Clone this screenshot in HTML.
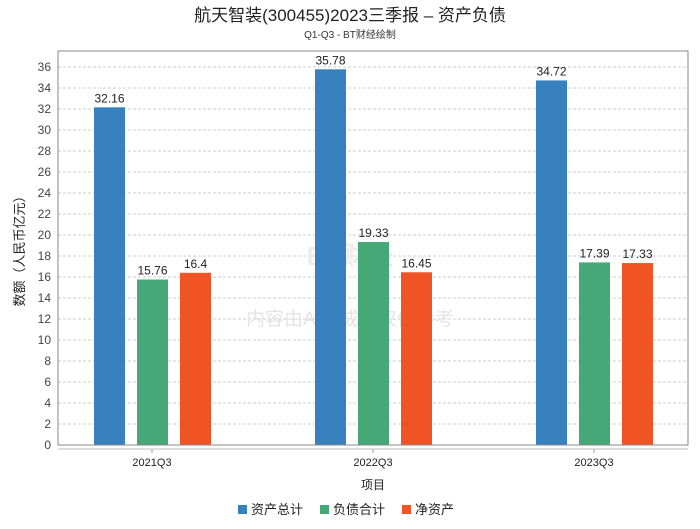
<!DOCTYPE html>
<html><head><meta charset="utf-8"><style>
body{margin:0;background:#fff;font-family:"Liberation Sans","Noto Sans CJK SC",sans-serif;}
</style></head><body>
<svg width="700" height="524" xmlns="http://www.w3.org/2000/svg" font-family="Liberation Sans, Noto Sans CJK SC, sans-serif">
<text x="350" y="21" text-anchor="middle" font-size="17" fill="#222">航天智装(300455)2023三季报 – 资产负债</text>
<text x="350" y="38" text-anchor="middle" font-size="10" fill="#333">Q1-Q3 - BT财经绘制</text>
<g id="grid"></g>
<text x="350" y="265" text-anchor="middle" font-size="26" fill="#ececec" font-weight="bold">BT财经</text>
<text x="350" y="325" text-anchor="middle" font-size="19" fill="#e4e4e4">内容由AI生成，仅供参考</text>
<g id="bars"></g>
<rect x="58" y="51" width="630" height="394" fill="none" stroke="#888"/>
<line x1="58" y1="449" x2="688" y2="449" stroke="#bbb"/>
<text transform="translate(24,248) rotate(-90)" text-anchor="middle" font-size="13" fill="#222">数额（人民币亿元）</text>
<text x="373" y="489" text-anchor="middle" font-size="12" fill="#222">项目</text>
<g id="legend"></g>
</svg>
<script>
const categories=["2021Q3","2022Q3","2023Q3"];
const seriesNames=["资产总计","负债合计","净资产"];
const assets=[32.16,35.78,34.72];
const liabilities=[15.76,19.33,17.39];
const equity=[16.4,16.45,17.33];
const yTicks=[0,2,4,6,8,10,12,14,16,18,20,22,24,26,28,30,32,34,36];
const colors=["#3781bf","#46a876","#f05425"];
const NS="http://www.w3.org/2000/svg";
const y=v=>445-v*10.5;
const xc=i=>152+i*221;
function mk(t,a,p){const e=document.createElementNS(NS,t);for(const k in a)e.setAttribute(k,a[k]);p.appendChild(e);return e;}
const grid=document.getElementById('grid');
yTicks.forEach(t=>{
 const l=mk('line',{x1:58,x2:688,y1:y(t),y2:y(t),stroke:'#ccc','stroke-dasharray':'3,2'},grid);
 
 
 const tx=mk('text',{x:51,y:y(t)+4,'text-anchor':'end','font-size':12,fill:'#444'},grid);
 tx.textContent=t;
 
 
});
const bars=document.getElementById('bars');
const series=[assets,liabilities,equity];
categories.forEach((c,i)=>{
 const tk=mk('line',{x1:xc(i),x2:xc(i),y1:449,y2:453,stroke:'#999'},bars);
 
 
 const lb=mk('text',{x:xc(i),y:466,'text-anchor':'middle','font-size':11,fill:'#222'},bars);
 lb.textContent=c;
 
 
 series.forEach((s,j)=>{
  const bx=xc(i)-58+j*43;
  const r=mk('rect',{x:bx,y:y(s[i]),width:31,height:445-y(s[i]),fill:colors[j]},bars);
  
  
  const v=mk('text',{x:bx+15.5,y:y(s[i])-5,'text-anchor':'middle','font-size':12,fill:'#222'},bars);
  v.textContent=s[i];
  
  
 });
});
const lg=document.getElementById('legend');
const lx=[238,320,402];
seriesNames.forEach((n,j)=>{
 const r=mk('rect',{x:lx[j],y:505,width:9,height:9,fill:colors[j]},lg);
 
 
 const t=mk('text',{x:lx[j]+13,y:514,'font-size':13,fill:'#222'},lg);
 t.textContent=n;
 
 
});
</script>
</body></html>
